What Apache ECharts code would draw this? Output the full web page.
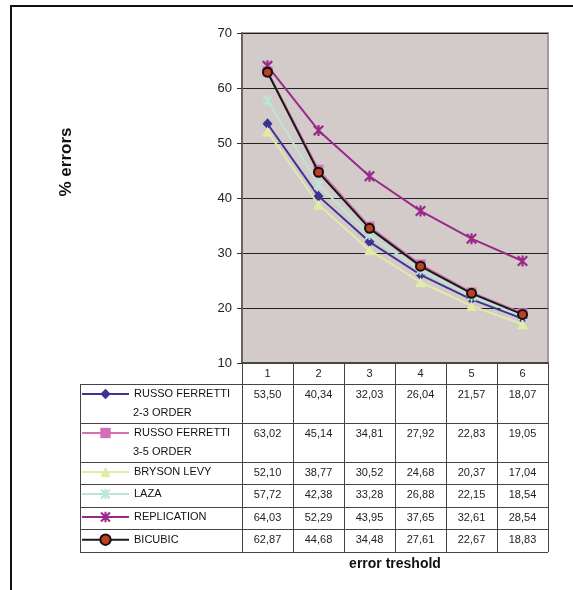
<!DOCTYPE html>
<html><head><meta charset="utf-8">
<script src="https://cdn.jsdelivr.net/npm/echarts@6/dist/echarts.min.js"></script>
<style>html,body{margin:0;padding:0;background:#fff}#c{width:573px;height:590px}</style>
</head><body><div id="c"></div>
<script>
// ---- data ----
const categories = ['1', '2', '3', '4', '5', '6'];
const seriesNames = ['RUSSO FERRETTI 2-3 ORDER', 'RUSSO FERRETTI 3-5 ORDER', 'BRYSON LEVY', 'LAZA', 'REPLICATION', 'BICUBIC'];
const seriesLabelLines = [['RUSSO FERRETTI', '2-3 ORDER'], ['RUSSO FERRETTI', '3-5 ORDER'], ['BRYSON LEVY'], ['LAZA'], ['REPLICATION'], ['BICUBIC']];
const russo23 = [53.50, 40.34, 32.03, 26.04, 21.57, 18.07];
const russo35 = [63.02, 45.14, 34.81, 27.92, 22.83, 19.05];
const brysonLevy = [52.10, 38.77, 30.52, 24.68, 20.37, 17.04];
const laza = [57.72, 42.38, 33.28, 26.88, 22.15, 18.54];
const replication = [64.03, 52.29, 43.95, 37.65, 32.61, 28.54];
const bicubic = [62.87, 44.68, 34.48, 27.61, 22.67, 18.83];
const yAxisMin = 10, yAxisMax = 70, yAxisStep = 10;
const yAxisTitle = '% errors';
const xAxisTitle = 'error treshold';

const seriesValues = [russo23, russo35, brysonLevy, laza, replication, bicubic];

// ---- styles ----
const FONT = 'Liberation Sans, Arial, sans-serif';
const star = 'path://M4,0L6,0L6,10L4,10Z M0,1.4L1.4,0L10,8.6L8.6,10Z M8.6,0L10,1.4L1.4,10L0,8.6Z';
const styles = [
  { color: '#3d3393', symbol: 'diamond', size: [10, 11] },
  { color: '#d46fb3', symbol: 'rect', size: [10, 10] },
  { color: '#e2eaa8', symbol: 'triangle', size: [11, 10] },
  { color: '#bde5d5', symbol: star, size: [10, 10] },
  { color: '#9a2a8a', symbol: star, size: [11, 11] },
  { color: '#1a1a1a', symbol: 'circle', size: 9, fill: '#c1401e', border: '#111', borderWidth: 2 }
];

const rowTops = [384, 423, 462, 484, 507, 529];
const tableBottom = 552;
const tableLeft = 80;
const gridLeft = 242, gridTop = 33, gridW = 306, gridH = 330;

const chart = echarts.init(document.getElementById('c'), null, { renderer: 'canvas' });

const series = seriesNames.map((name, i) => {
  const s = styles[i];
  return {
    name: name,
    type: 'line',
    data: seriesValues[i],
    symbol: s.symbol,
    symbolSize: s.size,
    showAllSymbol: true,
    lineStyle: { color: s.color, width: 2 },
    itemStyle: s.fill ? { color: s.fill, borderColor: s.border, borderWidth: s.borderWidth }
                      : { color: s.color, borderWidth: 0 },
    emphasis: { disabled: true },
    animation: false,
    z: 2 + i
  };
});

const legendIconH = 13;
const legends = seriesNames.map((name, i) => ({
  data: [name],
  left: 81,
  top: rowTops[i] + 11 - legendIconH / 2,
  itemWidth: 47,
  itemHeight: legendIconH,
  itemGap: 0,
  padding: 0,
  selectedMode: false,
  lineStyle: { width: 2 },
  formatter: () => seriesLabelLines[i][0],
  textStyle: { fontSize: 11, color: '#111', fontFamily: FONT }
}));

chart.setOption({
  animation: false,
  textStyle: { fontFamily: FONT },
  grid: {
    left: gridLeft, top: gridTop, width: gridW, height: gridH,
    show: true, backgroundColor: '#d3cbca', borderColor: '#a59c9a', borderWidth: 2
  },
  legend: legends,
  xAxis: {
    type: 'category',
    data: categories,
    boundaryGap: true,
    axisLine: { lineStyle: { color: '#4a4444', width: 2 } },
    axisTick: { show: true, alignWithLabel: false, length: tableBottom - (gridTop + gridH), lineStyle: { color: '#444', width: 1 } },
    axisLabel: { fontSize: 11, color: '#222', margin: 5, fontFamily: FONT },
    splitLine: { show: false }
  },
  yAxis: {
    type: 'value',
    min: yAxisMin, max: yAxisMax, interval: yAxisStep,
    axisLine: { show: true, lineStyle: { color: '#6b6361', width: 2 } },
    axisTick: { show: true, length: 5, lineStyle: { color: '#333', width: 1 } },
    axisLabel: { fontSize: 13, color: '#222', margin: 10, fontFamily: FONT },
    splitLine: { show: true, lineStyle: { color: '#222', width: 1 } }
  },
  series: series
});

// ---- table & titles (positions from the library's axes) ----
const g = [];
// outer frame (top & left)
g.push({ type: 'polyline', shape: { points: [[573, 6], [11, 6], [11, 590]] }, style: { stroke: '#111', lineWidth: 2, fill: null }, silent: true });
// horizontal row lines
rowTops.concat([tableBottom]).forEach(y => {
  g.push({ type: 'line', shape: { x1: tableLeft, y1: y + 0.5, x2: gridLeft + gridW, y2: y + 0.5 }, style: { stroke: '#444', lineWidth: 1 }, silent: true });
});
g.push({ type: 'line', shape: { x1: tableLeft + 0.5, y1: rowTops[0], x2: tableLeft + 0.5, y2: tableBottom + 1 }, style: { stroke: '#444', lineWidth: 1 }, silent: true });
// values
seriesValues.forEach((vals, i) => {
  vals.forEach((v, j) => {
    const x = chart.convertToPixel({ xAxisIndex: 0 }, categories[j]);
    g.push({ type: 'text', x: x, y: rowTops[i] + 11, silent: true,
      style: { text: v.toFixed(2).replace('.', ','), fontSize: 11, fill: '#222', fontFamily: FONT, align: 'center', verticalAlign: 'middle' } });
  });
  if (seriesLabelLines[i][1]) {
    g.push({ type: 'text', x: 133, y: rowTops[i] + 11 + 17.5, silent: true,
      style: { text: seriesLabelLines[i][1], fontSize: 11, fill: '#111', fontFamily: FONT, align: 'left', verticalAlign: 'middle' } });
  }
});
// axis titles
g.push({ type: 'text', x: 66, y: 162, rotation: Math.PI / 2, silent: true,
  style: { text: yAxisTitle, fontSize: 17, fontWeight: 'bold', fill: '#111', fontFamily: FONT, align: 'center', verticalAlign: 'middle' } });
g.push({ type: 'text', x: gridLeft + gridW / 2, y: 564, silent: true,
  style: { text: xAxisTitle, fontSize: 14, fontWeight: 'bold', fill: '#111', fontFamily: FONT, align: 'center', verticalAlign: 'middle' } });

chart.setOption({ graphic: g });
</script>
</body></html>
